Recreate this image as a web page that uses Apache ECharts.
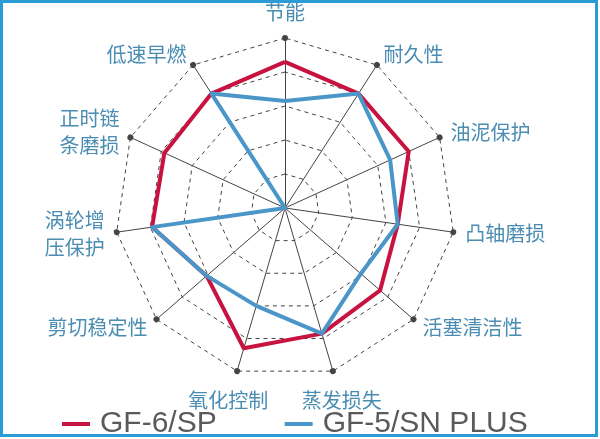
<!DOCTYPE html>
<html>
<head>
<meta charset="utf-8">
<script src="https://cdn.jsdelivr.net/npm/echarts@6/dist/echarts.min.js"></script>
<style>
html, body { margin: 0; padding: 0; background: #fff; }
#container { width: 600px; height: 439px; }
</style>
</head>
<body>
<div id="container"></div>
<script>
// axes in clockwise order from the top
var names = ['节能', '耐久性', '油泥保护', '凸轴磨损', '活塞清洁性', '蒸发损失',
    '氧化控制', '剪切稳定性', '涡轮增\n压保护', '正时链\n条磨损', '低速早燃'];
var gf6 = [4.3, 4.0, 4.0, 3.35, 3.7, 3.85, 4.3, 3.05, 3.95, 3.9, 4.0];
var gf5 = [3.15, 4.0, 3.4, 3.35, 2.95, 3.85, 3.0, 3.05, 3.95, 0, 4.0];
var seriesNames = ['GF-6/SP', 'GF-5/SN PLUS'];
var maxValue = 5;
// the two bottom names sit centred under their axis ends
var bottomNames = ['蒸发损失', '氧化控制'];

// echarts lays indicators out counter-clockwise, so flip the order
function clockwise(arr) {
    var out = [arr[0]];
    for (var i = arr.length - 1; i > 0; i--) out.push(arr[i]);
    return out;
}

var dom = document.getElementById('container');
var myChart = echarts.init(dom);

var nameStyle = {
    color: '#4b8db2',
    fontSize: 20,
    fontFamily: 'Noto Sans CJK SC',
    lineHeight: 27
};

var option = {
    animation: false,
    backgroundColor: '#fff',
    graphic: [{
        type: 'rect',
        shape: { x: 1.5, y: 1.5, width: 595, height: 434 },
        style: { fill: 'none', stroke: '#2a9cd6', lineWidth: 3 }
    }],
    legend: {
        left: 57,
        top: 404,
        itemWidth: 28,
        itemHeight: 4,
        itemGap: 68,
        icon: 'rect',
        data: seriesNames,
        textStyle: {
            color: '#5a5a5a',
            fontSize: 30,
            fontFamily: 'Liberation Sans',
            padding: [0, 0, 0, 5]
        }
    },
    radar: [{
        center: [285, 208],
        radius: 170,
        splitNumber: 5,
        shape: 'polygon',
        axisNameGap: 12,
        axisName: nameStyle,
        indicator: clockwise(names).map(function (n) {
            return { name: bottomNames.indexOf(n) >= 0 ? '' : n, min: 0, max: maxValue };
        }),
        axisLine: {
            symbol: ['none', 'circle'],
            symbolSize: [6, 6],
            lineStyle: { color: '#444', width: 1 }
        },
        splitLine: {
            lineStyle: { color: '#444', width: 1, type: [4, 4] }
        },
        splitArea: { show: false }
    }, {
        // same frame, only used to place the two bottom names
        center: [285, 208],
        radius: 170,
        shape: 'polygon',
        axisNameGap: 31,
        axisName: echarts.util.extend({ align: 'center', verticalAlign: 'middle' }, nameStyle),
        indicator: clockwise(names).map(function (n) {
            return { name: bottomNames.indexOf(n) >= 0 ? n : '', min: 0, max: maxValue };
        }),
        axisLine: { show: false },
        splitLine: { show: false },
        splitArea: { show: false }
    }],
    series: [{
        type: 'radar',
        radarIndex: 0,
        symbol: 'none',
        data: [{
            name: seriesNames[0],
            value: clockwise(gf6),
            lineStyle: { color: '#c8123f', width: 4 },
            itemStyle: { color: '#c8123f' }
        }, {
            name: seriesNames[1],
            value: clockwise(gf5),
            lineStyle: { color: '#4a96c8', width: 4 },
            itemStyle: { color: '#4a96c8' }
        }]
    }]
};

myChart.setOption(option);
</script>
</body>
</html>
